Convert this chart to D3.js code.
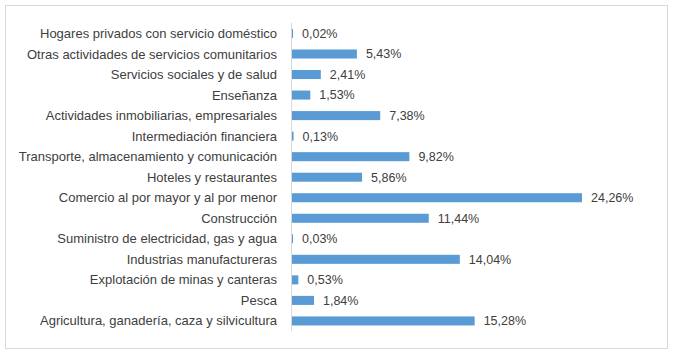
<!DOCTYPE html>
<html><head><meta charset="utf-8">
<script src="https://cdn.jsdelivr.net/npm/d3@7"></script>
<style>body{margin:0;background:#fff}svg{display:block}</style>
</head><body>
<script>
const categories = [
  "Hogares privados con servicio doméstico",
  "Otras actividades de servicios comunitarios",
  "Servicios sociales y de salud",
  "Enseñanza",
  "Actividades inmobiliarias, empresariales",
  "Intermediación financiera",
  "Transporte, almacenamiento y comunicación",
  "Hoteles y restaurantes",
  "Comercio al por mayor y al por menor",
  "Construcción",
  "Suministro de electricidad, gas y agua",
  "Industrias manufactureras",
  "Explotación de minas y canteras",
  "Pesca",
  "Agricultura, ganadería, caza y silvicultura"
];
const values = [0.02, 5.43, 2.41, 1.53, 7.38, 0.13, 9.82, 5.86, 24.26, 11.44, 0.03, 14.04, 0.53, 1.84, 15.28];

const W = 675, H = 356;
const svg = d3.select("body").append("svg").attr("width", W).attr("height", H);
svg.append("rect").attr("x", 5.5).attr("y", 5.5).attr("width", 662).attr("height", 343)
  .attr("fill", "#fff").attr("stroke", "#d9d9d9").attr("stroke-width", 1);

const x0 = 292;
const x = d3.scaleLinear().domain([0, 24.26]).range([x0, 582]);
const y = d3.scaleBand().domain(categories).range([23.2, 331.2]).paddingInner(0.56).paddingOuter(0.28);

const font = "'Liberation Sans', Arial, sans-serif";

svg.append("g").selectAll("rect").data(values).join("rect")
  .attr("x", x0)
  .attr("y", (d, i) => y(categories[i]))
  .attr("width", d => Math.max(1, x(d) - x0))
  .attr("height", y.bandwidth())
  .attr("fill", "#5b9bd5");

svg.append("line").attr("x1", 291.5).attr("x2", 291.5).attr("y1", 22.7).attr("y2", 330.7)
  .attr("stroke", "#d9d9d9");

svg.append("g").selectAll("text").data(categories).join("text")
  .attr("x", 277)
  .attr("y", d => y(d) + y.bandwidth() / 2)
  .attr("dy", "0.35em")
  .attr("text-anchor", "end")
  .attr("font-family", font).attr("font-size", 13).attr("fill", "#404040")
  .text(d => d);

svg.append("g").selectAll("text").data(values).join("text")
  .attr("x", d => Math.max(x(d), x0 + 1) + 9)
  .attr("y", (d, i) => y(categories[i]) + y.bandwidth() / 2)
  .attr("dy", "0.35em")
  .attr("font-family", font).attr("font-size", 12.5).attr("fill", "#404040")
  .text(d => d.toFixed(2).replace(".", ",") + "%");
</script>
</body></html>
